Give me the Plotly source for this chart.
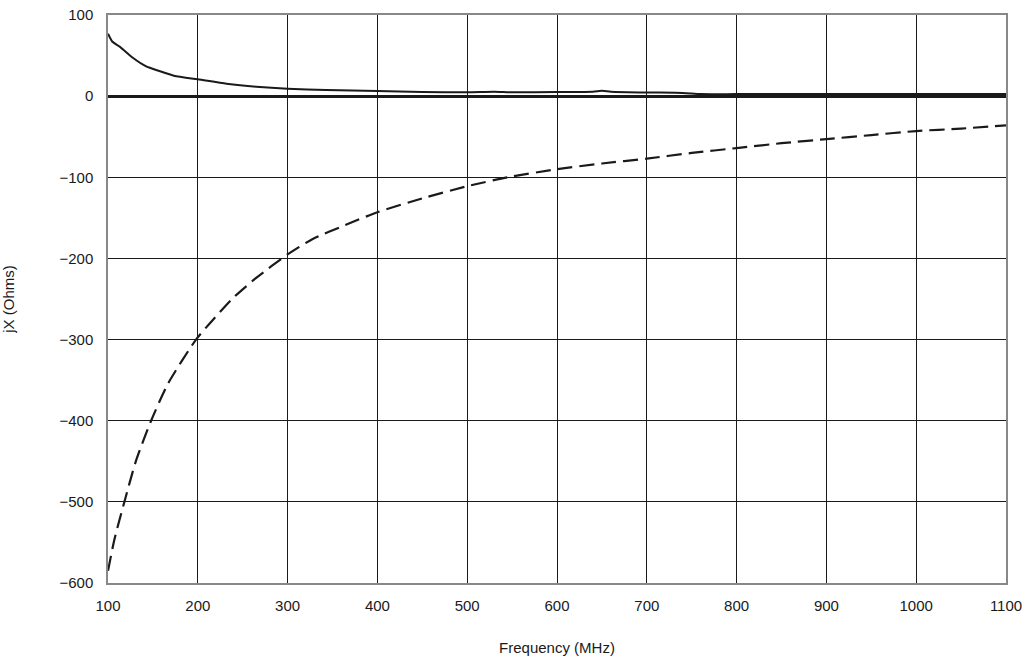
import plotly.graph_objects as go

# Solid curve (upper)
freq_solid = [100, 105, 113, 128, 142, 157, 176, 200, 232, 265, 300, 343, 400, 450,
              500, 530, 550, 600, 640, 650, 660, 700, 740, 760, 800, 900, 1000, 1100]
jx_solid = [77, 67, 61, 47, 37, 31, 24.4, 20.7, 15.3, 11.6, 9.1, 7.5, 6.3, 5.2,
            4.8, 5.5, 4.8, 5.2, 5.5, 6.5, 5.5, 4.5, 4, 2.5, 2.5, 2.5, 2.5, 2.5]

# Dashed curve (lower)
freq_dash = [100, 107, 118, 131, 148, 167, 198, 219, 239, 265, 300, 328, 364, 400,
             450, 500, 545, 600, 650, 700, 750, 800, 850, 900, 950, 1000, 1050, 1100]
jx_dash = [-585, -547, -501, -450, -400, -354, -300, -273, -249, -224, -195, -176, -159, -143,
           -126, -111, -100, -90, -83, -77, -70, -64, -58, -53, -48, -43, -40, -36]

x_ticks = [100, 200, 300, 400, 500, 600, 700, 800, 900, 1000, 1100]
y_ticks = [100, 0, -100, -200, -300, -400, -500, -600]
y_tick_text = ["100", "0", "\u2212100", "\u2212200", "\u2212300", "\u2212400", "\u2212500", "\u2212600"]

font_family = "Liberation Sans Narrow, Arial Narrow, Liberation Sans, Arial, sans-serif"

fig = go.Figure()
fig.add_trace(go.Scatter(x=freq_solid, y=jx_solid, mode="lines",
                         line=dict(color="#1a1a1a", width=2, shape="spline", smoothing=0.6),
                         showlegend=False))
fig.add_trace(go.Scatter(x=freq_dash, y=jx_dash, mode="lines",
                         line=dict(color="#1a1a1a", width=2.2, dash="15px,7px", shape="spline", smoothing=0.6),
                         showlegend=False))

fig.update_layout(
    width=1031, height=664,
    margin=dict(l=108, r=25, t=15, b=81, autoexpand=False),
    paper_bgcolor="white", plot_bgcolor="white",
    font=dict(family=font_family, size=15, color="#1a1a1a"),
    xaxis=dict(
        range=[100, 1100], tickvals=x_ticks, ticktext=[str(v) for v in x_ticks],
        showgrid=True, gridcolor="#1a1a1a", gridwidth=1,
        showline=True, linecolor="#888888", linewidth=1.5, mirror=True,
        zeroline=False, ticks="", ticklabelstandoff=8, automargin=False,
        ticklabeloverflow="allow",
        title=dict(text="Frequency (MHz)", standoff=30, font=dict(size=15)),
    ),
    yaxis=dict(
        range=[-600, 100], tickvals=y_ticks, ticktext=y_tick_text,
        showgrid=True, gridcolor="#1a1a1a", gridwidth=1,
        showline=True, linecolor="#888888", linewidth=1.5, mirror=True,
        zeroline=True, zerolinecolor="#1a1a1a", zerolinewidth=2.5,
        ticks="", ticklabelstandoff=10, automargin=False,
        ticklabeloverflow="allow",
        title=dict(text="jX (Ohms)", standoff=45, font=dict(size=15)),
    ),
)

fig.write_html("out.html", config={"displayModeBar": False},
               post_script="document.body.style.margin='0';document.body.style.overflow='hidden';")
